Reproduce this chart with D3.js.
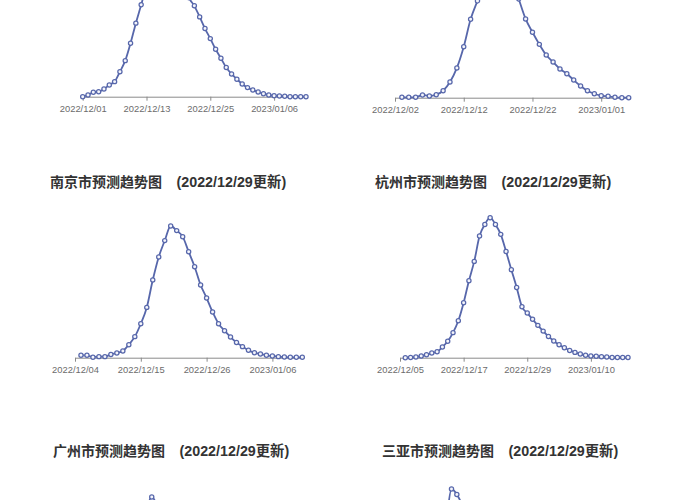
<!DOCTYPE html>
<html>
<head>
<meta charset="utf-8">
<script src="https://cdn.jsdelivr.net/npm/d3@7"></script>
<style>
  html, body { margin: 0; padding: 0; background: #fff; }
  svg { display: block; }
</style>
</head>
<body>
<svg id="chart" width="700" height="500"></svg>
<script>
'use strict';

// forecast curves, relative intensity (peak of each city = 100)
var updated = '2022/12/29';
var cityNames = ['', '', '南京市', '杭州市', '广州市', '三亚市'];
var axisStarts = ['2022/12/01', '2022/12/02', '2022/12/04', '2022/12/05', '2022/12/01', '2022/12/05'];
var dataStarts = ['2022/12/01', '2022/12/03', '2022/12/05', '2022/12/06', '2022/12/02', '2022/12/06'];
// bottom row axes are below the picture, so no labels for them
var tickLabels = [
	['2022/12/01', '2022/12/13', '2022/12/25', '2023/01/06'],
	['2022/12/02', '2022/12/12', '2022/12/22', '2023/01/01'],
	['2022/12/04', '2022/12/15', '2022/12/26', '2023/01/06'],
	['2022/12/05', '2022/12/17', '2022/12/29', '2023/01/10'],
	[],
	[]
];

var topLeftValues = [0, 1.2, 3.1, 3.5, 5.4, 8.3, 10.6, 17.6, 25.4, 37.7,
	51.8, 64.7, 78.1, 86.6, 93.7, 97.9, 100, 97.9, 91.5, 82.3,
	69.7, 64.0, 56.2, 48.0, 40.9, 33.4, 27.1, 20.5, 16.0, 12.3,
	9.0, 6.4, 4.7, 3.3, 2.1, 1.2, 0.7, 0.5, 0.3, 0,
	0, 0, 0];
var topRightValues = [0.3, 0.3, 0.3, 2.1, 1.3, 2.3, 5.3, 11.9, 22.6, 38.7,
	59.5, 73.5, 86.3, 95.4, 100, 98.5, 90.9, 75.0, 59.8, 49.7,
	40.5, 32.4, 27.1, 21.8, 18.2, 13.4, 8.9, 5.3, 3.0, 1.5,
	1.1, 0.3, 0, 0];
var nanjingValues = [1.8, 1.8, 0.3, 0.8, 0.8, 2.5, 3.5, 5.1, 9.9, 16.0,
	25.8, 38.2, 59.0, 76.5, 88.9, 100, 96.5, 91.9, 80.5, 69.1,
	55.2, 45.3, 34.7, 25.8, 20.5, 15.7, 11.6, 8.4, 5.6, 3.8,
	2.8, 1.8, 1.3, 0.8, 0.5, 0.3, 0.3, 0.3];
var hangzhouValues = [0, 0.2, 0.5, 1.2, 2.1, 3.3, 4.3, 7.6, 11.7, 17.9,
	26.4, 39.3, 55.0, 68.8, 86.9, 95.2, 100, 95.2, 88.1, 75.9,
	62.9, 50.2, 36.4, 31.9, 27.4, 23.1, 19.0, 15.2, 11.9, 9.3,
	7.1, 5.2, 3.8, 2.6, 1.7, 1.2, 1.0, 0.7, 0.5, 0.2,
	0.2, 0.2, 0.2];
var guangzhouValues = [1, 2, 3, 5, 8, 13, 20, 30, 43, 58,
	74, 90, 100, 93, 80, 66, 53, 42, 33, 26,
	20, 15, 11, 8, 6, 4.5, 3.2, 2.3, 1.6, 1.1,
	0.8, 0.5, 0.4, 0.3, 0.2, 0.1, 0.1, 0, 0, 0];
var sanyaValues = [0.5, 1, 2, 4, 8, 15, 28, 48, 75, 100,
	96, 88, 76, 63, 51, 41, 33, 26, 21, 17,
	13.5, 10.5, 8, 6, 4.5, 3.4, 2.5, 1.8, 1.3, 1,
	0.7, 0.5, 0.4, 0.3, 0.2, 0.1, 0.1, 0, 0, 0,
	0, 0, 0];

var seriesValues = [topLeftValues, topRightValues, nanjingValues, hangzhouValues, guangzhouValues, sanyaValues];

// where each small chart sits on the page (the page is cut off at top and bottom)
var panels = [
	{x0: 82.7, x1: 306, y0: 96.7, top: -45.3},
	{x0: 395, x1: 628.7, y0: 97.7, top: -34},
	{x0: 75, x1: 302.3, y0: 357.7, top: 226, tx: 50, ty: 187},
	{x0: 400, x1: 628, y0: 357.7, top: 217.7, tx: 375, ty: 187},
	{x0: 77, x1: 307, y0: 632, top: 497, tx: 53, ty: 456},
	{x0: 398, x1: 628, y0: 624, top: 489, tx: 382, ty: 456}
];

var lineColor = '#5767ab';
var parseDate = d3.timeParse('%Y/%m/%d');
var svg = d3.select('#chart');

svg.append('rect')
	.attr('width', 700)
	.attr('height', 500)
	.attr('fill', '#fff');

function drawPanel(p, i) {
	var values = seriesValues[i];
	var start = parseDate(dataStarts[i]);
	var points = values.map(function (v, k) {
		return {date: d3.timeDay.offset(start, k), value: v};
	});

	var x = d3.scaleTime()
		.domain([parseDate(axisStarts[i]), points[points.length - 1].date])
		.range([p.x0, p.x1]);
	var y = d3.scaleLinear()
		.domain([0, d3.max(values)])
		.range([p.y0, p.top]);

	var g = svg.append('g').attr('class', 'panel');

	var axis = d3.axisBottom(x)
		.tickValues(tickLabels[i].map(parseDate))
		.tickFormat(d3.timeFormat('%Y/%m/%d'))
		.tickSize(4)
		.tickSizeOuter(0)
		.tickPadding(4.2);

	var ax = g.append('g')
		.attr('transform', 'translate(0,' + p.y0 + ')')
		.call(axis);
	ax.select('.domain').attr('stroke', '#8a8a8a');
	ax.selectAll('.tick line').attr('stroke', '#8a8a8a');
	ax.selectAll('.tick text')
		.attr('fill', '#6c6c6c')
		.style('font-family', "'Liberation Sans', Arial, sans-serif")
		.style('font-size', '9.4px');

	var line = d3.line()
		.x(function (d) { return x(d.date); })
		.y(function (d) { return y(d.value); })
		.curve(d3.curveMonotoneX);

	g.append('path')
		.datum(points)
		.attr('d', line)
		.attr('fill', 'none')
		.attr('stroke', lineColor)
		.attr('stroke-width', 1.8);

	g.selectAll('.dot')
		.data(points)
		.enter()
		.append('circle')
			.classed('dot', 1)
			.attr('cx', function (d) { return x(d.date); })
			.attr('cy', function (d) { return y(d.value); })
			.attr('r', 2.1)
			.attr('fill', '#f4f5fb')
			.attr('stroke', lineColor)
			.attr('stroke-width', 1.25);

	// titles of the two top charts are outside the picture
	if (cityNames[i] !== '') {
		var titleFont = "'Liberation Sans', 'Noto Sans CJK SC', sans-serif";
		g.append('text')
			.attr('x', p.tx)
			.attr('y', p.ty)
			.attr('fill', '#333')
			.style('font-family', titleFont)
			.style('font-size', '14px')
			.style('font-weight', 'bold')
			.text(cityNames[i] + '预测趋势图');
		g.append('text')
			.attr('x', p.tx + 126.5)
			.attr('y', p.ty)
			.attr('fill', '#333')
			.style('font-family', titleFont)
			.style('font-size', '14.3px')
			.style('font-weight', 'bold')
			.text('(' + updated + '更新)');
	}
}

panels.forEach(drawPanel);
</script>
</body>
</html>
